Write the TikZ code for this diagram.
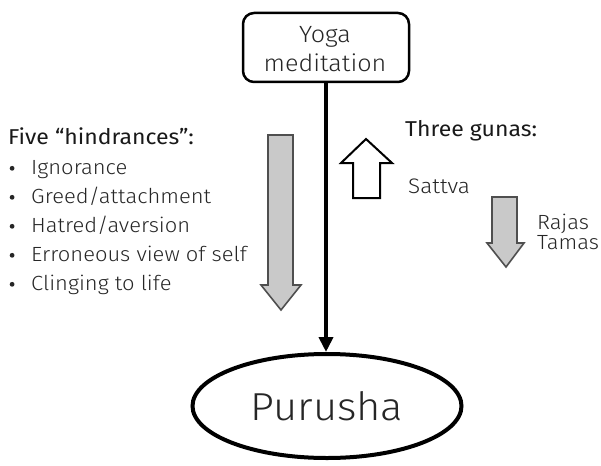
\documentclass[tikz,border=0pt]{standalone}
\usepackage{fontspec}
\setmainfont{Fira Sans Light}[FakeStretch=1.07]
\newfontfamily\regular{Fira Sans}[FakeStretch=1.07]
\usetikzlibrary{arrows.meta,shapes.geometric}
\definecolor{ink}{HTML}{262626}
\definecolor{arrowfill}{HTML}{C9C9C9}
\definecolor{arrowedge}{HTML}{4F4F4F}
\newcommand{\listdot}{\makebox[23pt][l]{\hspace{1.5pt}\raisebox{3.3pt}{\tikz\fill[ink] (0pt,0pt) circle (2.4pt);}}}
\tikzset{
  lbl/.style={anchor=base west, inner sep=0pt, text=ink, font=\fontsize{20.5}{24}\selectfont},
  head/.style={lbl, font=\fontsize{21.5}{24}\selectfont\regular, text=black!90},
  box/.style={draw, line width=2.5pt, rounded corners=11pt, minimum width=166pt, minimum height=69pt, inner sep=0pt},
  boxtxt/.style={anchor=base, inner sep=0pt, text=ink, font=\fontsize{23.5}{28}\selectfont},
  grayarrow/.style={fill=arrowfill, draw=arrowedge, line width=1.6pt, line join=miter},
  openarrow/.style={fill=white, draw=black, line width=2pt, line join=miter},
}
\begin{document}
\begin{tikzpicture}[x=1pt, y=-1pt]
\useasboundingbox (0,0) rectangle (601,465);

% top box and its two text lines
\node[box] (yoga) at (326,47.5) {};
\node[boxtxt] (yogaA) at (325,43) {Yoga};
\node[boxtxt] (yogaB) at (325,72) {meditation};

% bottom ellipse
\node[draw, ellipse, line width=4pt, minimum width=269pt, minimum height=104pt, inner sep=0pt,
      text=ink, font=\fontsize{39}{42}\selectfont] (purusha) at (327,406) {\raisebox{-3pt}{Purusha}};

% main connector
\draw[line width=4pt, -{Triangle[length=15pt, width=14pt]}] (yoga.south) -- (yoga.south |- purusha.north);

% large downward grey arrow
\draw[grayarrow] (268,135) -- (293,135) -- (293,285) -- (301,285) -- (281,310) -- (261,285) -- (268,285) -- cycle;

% hollow upward arrow
\draw[openarrow] (353,198) -- (353,163) -- (341,163) -- (366,139) -- (392,163) -- (380,163) -- (380,198) -- cycle;

% small downward grey arrow
\draw[grayarrow] (492,197) -- (517,197) -- (517,243) -- (524,243) -- (506,267) -- (487,243) -- (492,243) -- cycle;

% left list
\node[head] (five) at (8,145) {Five “hindrances”:};
\node[lbl] (h1) at (8,174) {\listdot Ignorance};
\node[lbl] (h2) at (8,203) {\listdot Greed/attachment};
\node[lbl] (h3) at (8,232) {\listdot Hatred/aversion};
\node[lbl] (h4) at (8,261) {\listdot Erroneous view of self};
\node[lbl] (h5) at (8,290) {\listdot Clinging to life};

% gunas
\node[head] (gunas) at (405,137) {Three gunas:};
\node[lbl, font=\fontsize{21}{24}\selectfont] (sattva) at (408,193) {Sattva};
\node[lbl] (rajas) at (537,229) {Rajas};
\node[lbl] (tamas) at (537,249) {Tamas};
\end{tikzpicture}
\end{document}
